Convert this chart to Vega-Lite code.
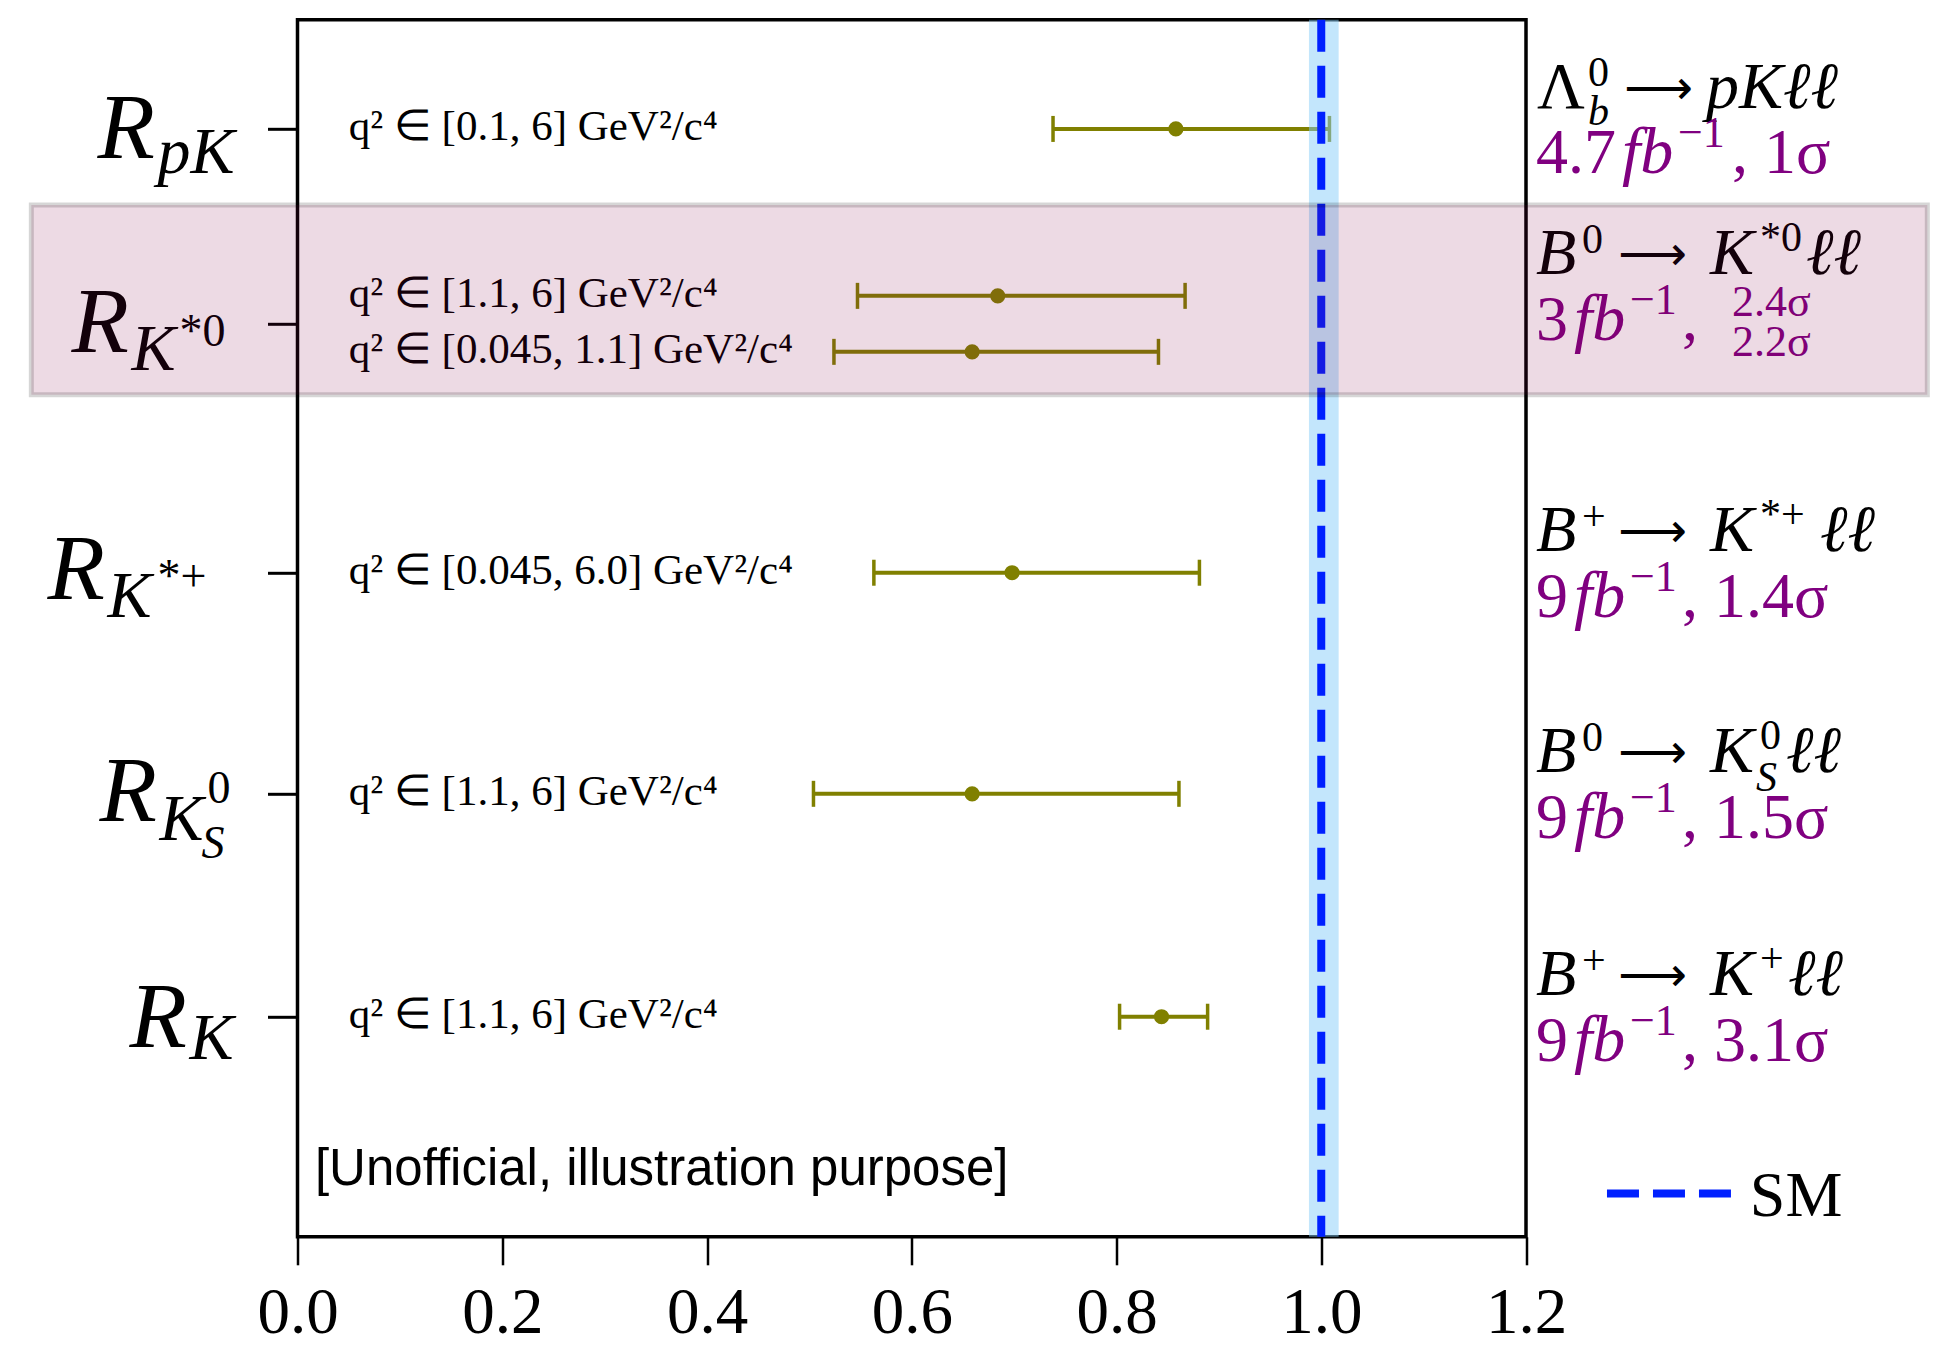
{
  "$schema": "https://vega.github.io/schema/vega-lite/v6.json",
  "width": 1228.5,
  "height": 1217,
  "autosize": {"type": "none"},
  "padding": {"left": 297.5, "top": 19.8, "right": 410, "bottom": 109.2},
  "background": "white",
  "config": {"view": {"stroke": "black", "strokeWidth": 3.5}},
  "datasets": {
    "meas": [
      {"label": "q² ∈ [0.1, 6] GeV²/c⁴", "y": 0.538, "val": 0.858, "lo": 0.738, "hi": 1.008},
      {"label": "q² ∈ [1.1, 6] GeV²/c⁴", "y": 1.361, "val": 0.684, "lo": 0.547, "hi": 0.867},
      {"label": "q² ∈ [0.045, 1.1] GeV²/c⁴", "y": 1.637, "val": 0.659, "lo": 0.524, "hi": 0.841},
      {"label": "q² ∈ [0.045, 6.0] GeV²/c⁴", "y": 2.726, "val": 0.698, "lo": 0.563, "hi": 0.881},
      {"label": "q² ∈ [1.1, 6] GeV²/c⁴", "y": 3.816, "val": 0.659, "lo": 0.504, "hi": 0.861},
      {"label": "q² ∈ [1.1, 6] GeV²/c⁴", "y": 4.915, "val": 0.844, "lo": 0.803, "hi": 0.889}
    ],
    "ylabels": [
      {"key": "pK", "y": 0.538},
      {"key": "Kst0", "y": 1.5},
      {"key": "Kstp", "y": 2.726},
      {"key": "KS0", "y": 3.816},
      {"key": "K", "y": 4.915}
    ],
    "decays": [
      {"key": "pK", "y": 0.538, "bsup": "", "ksup": "", "num": "4.7", "rest": ", 1σ"},
      {"key": "Kst0", "y": 1.361, "bsup": "0", "ksup": "*0", "num": "3", "rest": ","},
      {"key": "Kstp", "y": 2.726, "bsup": "+", "ksup": "*+", "num": "9", "rest": ", 1.4σ"},
      {"key": "KS0", "y": 3.816, "bsup": "0", "ksup": "0", "num": "9", "rest": ", 1.5σ"},
      {"key": "K", "y": 4.915, "bsup": "+", "ksup": "+", "num": "9", "rest": ", 3.1σ"}
    ]
  },
  "layer": [
    {
      "data": {"name": "meas"},
      "mark": {"type": "rule", "color": "#808000", "strokeWidth": 4},
      "encoding": {
        "x": {"field": "lo", "type": "quantitative", "scale": {"domain": [0, 1.2], "nice": false, "zero": false},
          "axis": {"values": [0, 0.2, 0.4, 0.6, 0.8, 1.0, 1.2], "format": ".1f", "title": null, "grid": false, "domain": false,
            "tickSize": 28, "tickWidth": 2.5, "tickColor": "black", "labelFont": "Liberation Serif", "labelFontSize": 65,
            "labelColor": "black", "labelPadding": 17, "labelFlush": false, "labelOverlap": false}},
        "x2": {"field": "hi"},
        "y": {"field": "y", "type": "quantitative", "scale": {"domain": [0, 6], "reverse": true, "nice": false, "zero": false},
          "axis": {"values": [0.538, 1.5, 2.726, 3.816, 4.915], "labels": false, "title": null, "grid": false, "domain": false,
            "tickSize": 30, "tickWidth": 3, "tickColor": "black"}}
      }
    },
    {
      "data": {"name": "meas"},
      "mark": {"type": "tick", "orient": "vertical", "size": 26, "thickness": 3.5, "color": "#808000", "opacity": 1},
      "encoding": {
        "x": {"field": "lo", "type": "quantitative", "scale": {"domain": [0, 1.2], "nice": false, "zero": false}, "title": null},
        "y": {"field": "y", "type": "quantitative", "scale": {"domain": [0, 6], "reverse": true, "nice": false, "zero": false}, "title": null}
      }
    },
    {
      "data": {"name": "meas"},
      "mark": {"type": "tick", "orient": "vertical", "size": 26, "thickness": 3.5, "color": "#808000", "opacity": 1},
      "encoding": {
        "x": {"field": "hi", "type": "quantitative", "scale": {"domain": [0, 1.2], "nice": false, "zero": false}, "title": null},
        "y": {"field": "y", "type": "quantitative", "scale": {"domain": [0, 6], "reverse": true, "nice": false, "zero": false}, "title": null}
      }
    },
    {
      "data": {"name": "meas"},
      "mark": {"type": "point", "filled": true, "size": 230, "color": "#808000", "opacity": 1},
      "encoding": {
        "x": {"field": "val", "type": "quantitative", "scale": {"domain": [0, 1.2], "nice": false, "zero": false}, "title": null},
        "y": {"field": "y", "type": "quantitative", "scale": {"domain": [0, 6], "reverse": true, "nice": false, "zero": false}, "title": null}
      }
    },
    {
      "data": {"name": "meas"},
      "mark": {"type": "text", "align": "left", "baseline": "middle", "font": "Liberation Serif", "fontSize": 43, "color": "black", "dy": -2},
      "encoding": {
        "x": {"datum": 0.05, "type": "quantitative", "scale": {"domain": [0, 1.2], "nice": false, "zero": false}, "title": null},
        "y": {"field": "y", "type": "quantitative", "scale": {"domain": [0, 6], "reverse": true, "nice": false, "zero": false}, "title": null},
        "text": {"field": "label"}
      }
    },
    {
      "data": {"values": [{}]},
      "mark": {"type": "rect", "fill": "#87cefa", "opacity": 0.5},
      "encoding": {
        "x": {"datum": 0.988, "type": "quantitative", "scale": {"domain": [0, 1.2], "nice": false, "zero": false}, "title": null},
        "x2": {"datum": 1.017}
      }
    },
    {
      "data": {"values": [{}]},
      "mark": {"type": "rule", "color": "#0020ff", "strokeWidth": 8, "strokeDash": [32, 14]},
      "encoding": {
        "x": {"datum": 1.0, "type": "quantitative", "scale": {"domain": [0, 1.2], "nice": false, "zero": false}, "title": null}
      }
    },
    {
      "data": {"name": "ylabels"},
      "transform": [{"filter": "datum.key === 'pK'"}],
      "layer": [
        {"mark": {"type": "text", "text": "R", "align": "left", "baseline": "alphabetic", "font": "Liberation Serif", "fontStyle": "italic", "fontSize": 94, "color": "black", "dx": -200, "dy": 29}},
        {"mark": {"type": "text", "text": "pK", "align": "left", "baseline": "alphabetic", "font": "Liberation Serif", "fontStyle": "italic", "fontSize": 66, "color": "black", "dx": -140, "dy": 44}}
      ],
      "encoding": {
        "x": {"datum": 0, "type": "quantitative", "scale": {"domain": [0, 1.2], "nice": false, "zero": false}, "title": null},
        "y": {"field": "y", "type": "quantitative", "scale": {"domain": [0, 6], "reverse": true, "nice": false, "zero": false}, "title": null}
      }
    },
    {
      "data": {"name": "ylabels"},
      "transform": [{"filter": "datum.key === 'Kst0'"}],
      "layer": [
        {"mark": {"type": "text", "text": "R", "align": "left", "baseline": "alphabetic", "font": "Liberation Serif", "fontStyle": "italic", "fontSize": 94, "color": "black", "dx": -226, "dy": 28}},
        {"mark": {"type": "text", "text": "K", "align": "left", "baseline": "alphabetic", "font": "Liberation Serif", "fontStyle": "italic", "fontSize": 66, "color": "black", "dx": -166, "dy": 46}},
        {"mark": {"type": "text", "text": "*0", "align": "left", "baseline": "alphabetic", "font": "Liberation Serif", "fontSize": 46, "color": "black", "dx": -118, "dy": 22}}
      ],
      "encoding": {
        "x": {"datum": 0, "type": "quantitative", "scale": {"domain": [0, 1.2], "nice": false, "zero": false}, "title": null},
        "y": {"field": "y", "type": "quantitative", "scale": {"domain": [0, 6], "reverse": true, "nice": false, "zero": false}, "title": null}
      }
    },
    {
      "data": {"name": "ylabels"},
      "transform": [{"filter": "datum.key === 'Kstp'"}],
      "layer": [
        {"mark": {"type": "text", "text": "R", "align": "left", "baseline": "alphabetic", "font": "Liberation Serif", "fontStyle": "italic", "fontSize": 94, "color": "black", "dx": -250, "dy": 26}},
        {"mark": {"type": "text", "text": "K", "align": "left", "baseline": "alphabetic", "font": "Liberation Serif", "fontStyle": "italic", "fontSize": 66, "color": "black", "dx": -190, "dy": 44}},
        {"mark": {"type": "text", "text": "*+", "align": "left", "baseline": "alphabetic", "font": "Liberation Serif", "fontSize": 46, "color": "black", "dx": -140, "dy": 18}}
      ],
      "encoding": {
        "x": {"datum": 0, "type": "quantitative", "scale": {"domain": [0, 1.2], "nice": false, "zero": false}, "title": null},
        "y": {"field": "y", "type": "quantitative", "scale": {"domain": [0, 6], "reverse": true, "nice": false, "zero": false}, "title": null}
      }
    },
    {
      "data": {"name": "ylabels"},
      "transform": [{"filter": "datum.key === 'KS0'"}],
      "layer": [
        {"mark": {"type": "text", "text": "R", "align": "left", "baseline": "alphabetic", "font": "Liberation Serif", "fontStyle": "italic", "fontSize": 94, "color": "black", "dx": -198, "dy": 27}},
        {"mark": {"type": "text", "text": "K", "align": "left", "baseline": "alphabetic", "font": "Liberation Serif", "fontStyle": "italic", "fontSize": 66, "color": "black", "dx": -138, "dy": 46}},
        {"mark": {"type": "text", "text": "0", "align": "left", "baseline": "alphabetic", "font": "Liberation Serif", "fontSize": 46, "color": "black", "dx": -90, "dy": 9}},
        {"mark": {"type": "text", "text": "S", "align": "left", "baseline": "alphabetic", "font": "Liberation Serif", "fontStyle": "italic", "fontSize": 46, "color": "black", "dx": -96, "dy": 64}}
      ],
      "encoding": {
        "x": {"datum": 0, "type": "quantitative", "scale": {"domain": [0, 1.2], "nice": false, "zero": false}, "title": null},
        "y": {"field": "y", "type": "quantitative", "scale": {"domain": [0, 6], "reverse": true, "nice": false, "zero": false}, "title": null}
      }
    },
    {
      "data": {"name": "ylabels"},
      "transform": [{"filter": "datum.key === 'K'"}],
      "layer": [
        {"mark": {"type": "text", "text": "R", "align": "left", "baseline": "alphabetic", "font": "Liberation Serif", "fontStyle": "italic", "fontSize": 94, "color": "black", "dx": -168, "dy": 30}},
        {"mark": {"type": "text", "text": "K", "align": "left", "baseline": "alphabetic", "font": "Liberation Serif", "fontStyle": "italic", "fontSize": 66, "color": "black", "dx": -108, "dy": 42}}
      ],
      "encoding": {
        "x": {"datum": 0, "type": "quantitative", "scale": {"domain": [0, 1.2], "nice": false, "zero": false}, "title": null},
        "y": {"field": "y", "type": "quantitative", "scale": {"domain": [0, 6], "reverse": true, "nice": false, "zero": false}, "title": null}
      }
    },
    {
      "data": {"name": "decays"},
      "transform": [{"filter": "datum.key !== 'pK'"}],
      "layer": [
        {"mark": {"type": "text", "text": "B", "align": "left", "baseline": "alphabetic", "font": "Liberation Serif", "fontStyle": "italic", "fontSize": 66, "color": "black", "dx": 10, "dy": -22}},
        {"mark": {"type": "text", "align": "left", "baseline": "alphabetic", "font": "Liberation Serif", "fontSize": 42, "color": "black", "dx": 56, "dy": -43},
          "encoding": {"text": {"field": "bsup"}}},
        {"mark": {"type": "text", "text": "⟶", "align": "left", "baseline": "alphabetic", "font": "DejaVu Sans", "fontSize": 48, "color": "black", "dx": 92, "dy": -26}},
        {"mark": {"type": "text", "text": "K", "align": "left", "baseline": "alphabetic", "font": "Liberation Serif", "fontStyle": "italic", "fontSize": 66, "color": "black", "dx": 184, "dy": -22}},
        {"mark": {"type": "text", "align": "left", "baseline": "alphabetic", "font": "Liberation Serif", "fontSize": 42, "color": "black", "dx": 234, "dy": -45},
          "encoding": {"text": {"field": "ksup"}}},
        {"mark": {"type": "text", "align": "left", "baseline": "alphabetic", "font": "Liberation Serif", "fontSize": 64, "color": "#800080", "dx": 10, "dy": 44},
          "encoding": {"text": {"field": "num"}}},
        {"mark": {"type": "text", "text": "fb", "align": "left", "baseline": "alphabetic", "font": "Liberation Serif", "fontStyle": "italic", "fontSize": 66, "color": "#800080", "dx": 48, "dy": 44}},
        {"mark": {"type": "text", "text": "−1", "align": "left", "baseline": "alphabetic", "font": "Liberation Serif", "fontSize": 44, "color": "#800080", "dx": 104, "dy": 18}},
        {"mark": {"type": "text", "align": "left", "baseline": "alphabetic", "font": "Liberation Serif", "fontSize": 64, "color": "#800080", "dx": 156, "dy": 44},
          "encoding": {"text": {"field": "rest"}}}
      ],
      "encoding": {
        "x": {"datum": 1.2, "type": "quantitative", "scale": {"domain": [0, 1.2], "nice": false, "zero": false}, "title": null},
        "y": {"field": "y", "type": "quantitative", "scale": {"domain": [0, 6], "reverse": true, "nice": false, "zero": false}, "title": null}
      }
    },
    {
      "data": {"name": "decays"},
      "transform": [{"filter": "datum.key === 'pK'"}],
      "layer": [
        {"mark": {"type": "text", "text": "Λ", "align": "left", "baseline": "alphabetic", "font": "Liberation Serif", "fontSize": 66, "color": "black", "dx": 11, "dy": -21}},
        {"mark": {"type": "text", "text": "0", "align": "left", "baseline": "alphabetic", "font": "Liberation Serif", "fontSize": 42, "color": "black", "dx": 62, "dy": -43}},
        {"mark": {"type": "text", "text": "b", "align": "left", "baseline": "alphabetic", "font": "Liberation Serif", "fontStyle": "italic", "fontSize": 42, "color": "black", "dx": 62, "dy": -4}},
        {"mark": {"type": "text", "text": "⟶", "align": "left", "baseline": "alphabetic", "font": "DejaVu Sans", "fontSize": 48, "color": "black", "dx": 98, "dy": -25}},
        {"mark": {"type": "text", "text": "pKℓℓ", "align": "left", "baseline": "alphabetic", "font": "Liberation Serif", "fontStyle": "italic", "fontSize": 66, "color": "black", "dx": 180, "dy": -21}},
        {"mark": {"type": "text", "align": "left", "baseline": "alphabetic", "font": "Liberation Serif", "fontSize": 64, "color": "#800080", "dx": 10, "dy": 44},
          "encoding": {"text": {"field": "num"}}},
        {"mark": {"type": "text", "text": "fb", "align": "left", "baseline": "alphabetic", "font": "Liberation Serif", "fontStyle": "italic", "fontSize": 66, "color": "#800080", "dx": 96, "dy": 44}},
        {"mark": {"type": "text", "text": "−1", "align": "left", "baseline": "alphabetic", "font": "Liberation Serif", "fontSize": 44, "color": "#800080", "dx": 152, "dy": 18}},
        {"mark": {"type": "text", "align": "left", "baseline": "alphabetic", "font": "Liberation Serif", "fontSize": 64, "color": "#800080", "dx": 206, "dy": 44},
          "encoding": {"text": {"field": "rest"}}}
      ],
      "encoding": {
        "x": {"datum": 1.2, "type": "quantitative", "scale": {"domain": [0, 1.2], "nice": false, "zero": false}, "title": null},
        "y": {"field": "y", "type": "quantitative", "scale": {"domain": [0, 6], "reverse": true, "nice": false, "zero": false}, "title": null}
      }
    },
    {
      "data": {"name": "decays"},
      "layer": [
        {"transform": [{"filter": "datum.key === 'Kst0'"}],
          "mark": {"type": "text", "text": "ℓℓ", "align": "left", "baseline": "alphabetic", "font": "Liberation Serif", "fontStyle": "italic", "fontSize": 66, "color": "black", "dx": 280, "dy": -22}},
        {"transform": [{"filter": "datum.key === 'Kstp'"}],
          "mark": {"type": "text", "text": "ℓℓ", "align": "left", "baseline": "alphabetic", "font": "Liberation Serif", "fontStyle": "italic", "fontSize": 66, "color": "black", "dx": 294, "dy": -22}},
        {"transform": [{"filter": "datum.key === 'KS0'"}],
          "mark": {"type": "text", "text": "ℓℓ", "align": "left", "baseline": "alphabetic", "font": "Liberation Serif", "fontStyle": "italic", "fontSize": 66, "color": "black", "dx": 260, "dy": -22}},
        {"transform": [{"filter": "datum.key === 'KS0'"}],
          "mark": {"type": "text", "text": "S", "align": "left", "baseline": "alphabetic", "font": "Liberation Serif", "fontStyle": "italic", "fontSize": 42, "color": "black", "dx": 230, "dy": -3}},
        {"transform": [{"filter": "datum.key === 'K'"}],
          "mark": {"type": "text", "text": "ℓℓ", "align": "left", "baseline": "alphabetic", "font": "Liberation Serif", "fontStyle": "italic", "fontSize": 66, "color": "black", "dx": 262, "dy": -22}},
        {"transform": [{"filter": "datum.key === 'Kst0'"}],
          "mark": {"type": "text", "text": "2.4σ", "align": "left", "baseline": "alphabetic", "font": "Liberation Serif", "fontSize": 44, "color": "#800080", "dx": 206, "dy": 20}},
        {"transform": [{"filter": "datum.key === 'Kst0'"}],
          "mark": {"type": "text", "text": "2.2σ", "align": "left", "baseline": "alphabetic", "font": "Liberation Serif", "fontSize": 44, "color": "#800080", "dx": 206, "dy": 60}}
      ],
      "encoding": {
        "x": {"datum": 1.2, "type": "quantitative", "scale": {"domain": [0, 1.2], "nice": false, "zero": false}, "title": null},
        "y": {"field": "y", "type": "quantitative", "scale": {"domain": [0, 6], "reverse": true, "nice": false, "zero": false}, "title": null}
      }
    },
    {
      "data": {"values": [{"note": "[Unofficial, illustration purpose]"}]},
      "mark": {"type": "text", "align": "left", "baseline": "middle", "font": "Liberation Sans", "fontSize": 51, "color": "black"},
      "encoding": {
        "x": {"datum": 0.017, "type": "quantitative", "scale": {"domain": [0, 1.2], "nice": false, "zero": false}, "title": null},
        "y": {"datum": 5.669, "type": "quantitative", "scale": {"domain": [0, 6], "reverse": true, "nice": false, "zero": false}, "title": null},
        "text": {"field": "note"}
      }
    },
    {
      "data": {"values": [{"name": "SM"}]},
      "layer": [
        {"mark": {"type": "rule", "color": "#0020ff", "strokeWidth": 8, "strokeDash": [32, 14]},
          "encoding": {
            "x": {"datum": 1.2791, "type": "quantitative", "scale": {"domain": [0, 1.2], "nice": false, "zero": false}, "title": null},
            "x2": {"datum": 1.4002},
            "y": {"datum": 5.787, "type": "quantitative", "scale": {"domain": [0, 6], "reverse": true, "nice": false, "zero": false}, "title": null}
          }},
        {"mark": {"type": "text", "align": "left", "baseline": "alphabetic", "font": "Liberation Serif", "fontSize": 64, "color": "black", "dy": 22},
          "encoding": {
            "x": {"datum": 1.4186, "type": "quantitative", "scale": {"domain": [0, 1.2], "nice": false, "zero": false}, "title": null},
            "y": {"datum": 5.787, "type": "quantitative", "scale": {"domain": [0, 6], "reverse": true, "nice": false, "zero": false}, "title": null},
            "text": {"field": "name"}
          }}
      ]
    },
    {
      "data": {"values": [{}]},
      "mark": {"type": "rect", "fill": "#830045", "fillOpacity": 0.145, "stroke": "#000000", "strokeOpacity": 0.16, "strokeWidth": 5},
      "encoding": {
        "x": {"datum": -0.26, "type": "quantitative", "scale": {"domain": [0, 1.2], "nice": false, "zero": false}, "title": null},
        "x2": {"datum": 1.592},
        "y": {"datum": 0.913, "type": "quantitative", "scale": {"domain": [0, 6], "reverse": true, "nice": false, "zero": false}, "title": null},
        "y2": {"datum": 1.849}
      }
    }
  ]
}
